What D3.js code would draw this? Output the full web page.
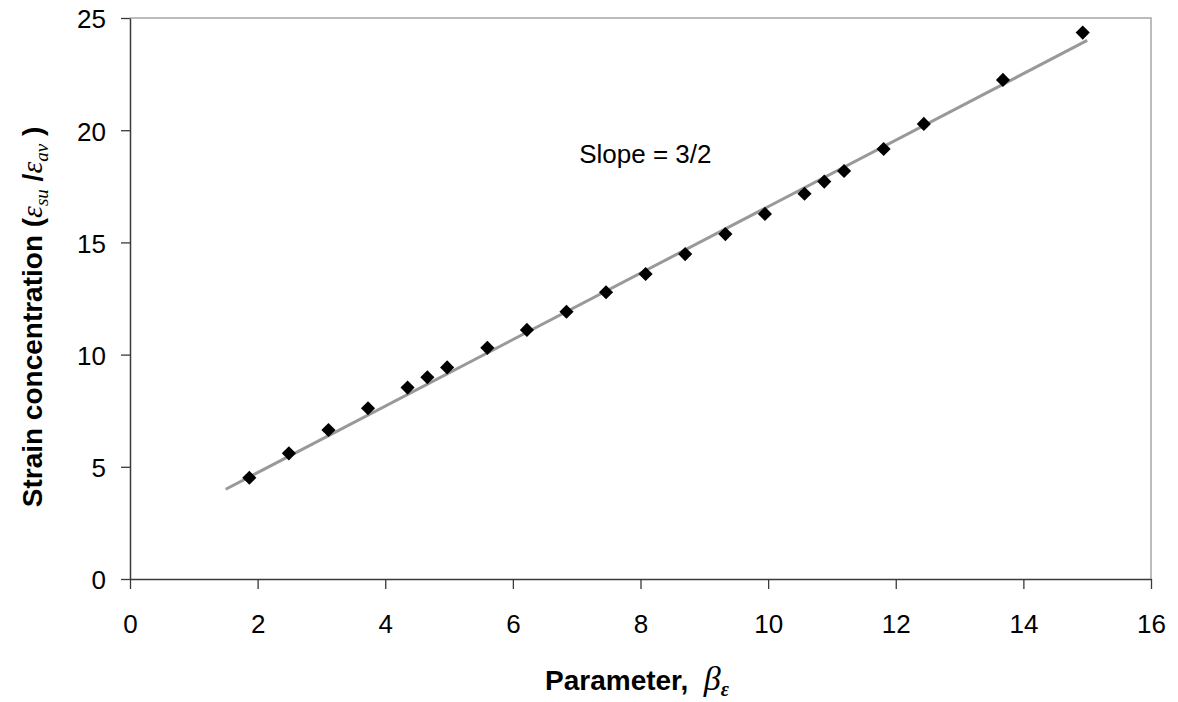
<!DOCTYPE html>
<html>
<head>
<meta charset="utf-8">
<script src="https://cdn.jsdelivr.net/npm/d3@7"></script>
<style>
  html, body { margin: 0; padding: 0; background: #fff; }
  svg { display: block; }
</style>
</head>
<body>
<svg id="chart" width="1178" height="702"></svg>
<script>
// ---- data ----
const beta = [1.87, 2.49, 3.11, 3.73, 4.35, 4.66, 4.97, 5.60, 6.22, 6.84, 7.46, 8.08, 8.70, 9.33, 9.95, 10.57, 10.88, 11.19, 11.81, 12.44, 13.68, 14.93];
const strain = [4.51, 5.60, 6.64, 7.61, 8.53, 8.99, 9.43, 10.30, 11.10, 11.91, 12.78, 13.59, 14.48, 15.37, 16.27, 17.17, 17.71, 18.18, 19.16, 20.28, 22.24, 24.35];
const trendX = [1.5, 15];
const trendY = [4, 24];
const xTicks = [0, 2, 4, 6, 8, 10, 12, 14, 16];
const yTicks = [0, 5, 10, 15, 20, 25];
const slopeLabel = "Slope = 3/2";
const slopePos = [7.04, 18.54];

// ---- layout ----
const svg = d3.select("#chart");
const mLeft = 130, mRight = 1151, mTop = 18, mBottom = 579;
const x = d3.scaleLinear().domain([0, 16]).range([mLeft, mRight]);
const y = d3.scaleLinear().domain([0, 25]).range([mBottom, mTop]);
const FONT = "'Liberation Sans', Arial, sans-serif";
const SERIF = "'Liberation Serif', 'DejaVu Serif', serif";

// plot area border (top/right grey)
svg.append("path")
  .attr("d", `M${mLeft},${mTop}H${mRight}V${mBottom}`)
  .attr("fill", "none").attr("stroke", "#a6a6a6").attr("stroke-width", 1.5);

// axes
const xAxis = d3.axisBottom(x).tickValues(xTicks).tickSize(10).tickSizeOuter(0).tickPadding(26);
const gx = svg.append("g").attr("transform", `translate(0,${mBottom})`).call(xAxis);
const yAxis = d3.axisLeft(y).tickValues(yTicks).tickSize(9).tickSizeOuter(0).tickPadding(15);
const gy = svg.append("g").attr("transform", `translate(${mLeft},0)`).call(yAxis);

[gx, gy].forEach(g => {
  g.select(".domain").attr("stroke", "#3a3a3a").attr("stroke-width", 1.5);
  g.selectAll(".tick line").attr("stroke", "#3a3a3a").attr("stroke-width", 1.3);
  g.selectAll(".tick text").attr("fill", "#000").style("font-family", FONT).style("font-size", "26px");
});
gy.selectAll(".tick text").attr("dy", "0.38em");

// trend line
svg.append("line")
  .attr("x1", x(trendX[0])).attr("y1", y(trendY[0]))
  .attr("x2", x(trendX[1])).attr("y2", y(trendY[1]))
  .attr("stroke", "#999999").attr("stroke-width", 3);

// markers
const diamond = d3.symbol().type(d3.symbolSquare).size(100);
svg.append("g").selectAll("path")
  .data(beta.map((b, i) => [b, strain[i]]))
  .join("path")
  .attr("d", diamond)
  .attr("transform", d => `translate(${x(d[0])},${y(d[1])}) rotate(45)`)
  .attr("fill", "#000");

// slope annotation
svg.append("text")
  .attr("x", x(slopePos[0])).attr("y", y(slopePos[1]))
  .style("font-family", FONT).style("font-size", "26px")
  .attr("fill", "#000")
  .text(slopeLabel);

// x axis title
const xt = svg.append("text")
  .attr("x", 637).attr("y", 690)
  .attr("text-anchor", "middle")
  .style("font-family", FONT).style("font-size", "28px").style("font-weight", "bold")
  .attr("fill", "#000");
xt.append("tspan").text("Parameter,\u00a0\u00a0");
xt.append("tspan").text("β").style("font-family", SERIF).style("font-style", "italic").style("font-weight", "normal").style("font-size", "34px");
xt.append("tspan").text("ε").attr("dy", 6).style("font-family", SERIF).style("font-style", "italic").style("font-weight", "bold").style("font-size", "20px");

// y axis title
const yt = svg.append("text")
  .attr("transform", "translate(42,317) rotate(-90)")
  .attr("text-anchor", "middle")
  .style("font-family", FONT).style("font-size", "28px").style("font-weight", "bold")
  .attr("fill", "#000");
yt.append("tspan").text("Strain concentration (");
yt.append("tspan").text("ε").style("font-family", SERIF).style("font-style", "italic").style("font-weight", "normal").style("font-size", "30px");
yt.append("tspan").text("su").attr("dy", 6).style("font-family", SERIF).style("font-style", "italic").style("font-weight", "normal").style("font-size", "19px");
yt.append("tspan").text("\u00a0/").attr("dy", -6);
yt.append("tspan").text("ε").style("font-family", SERIF).style("font-style", "italic").style("font-weight", "normal").style("font-size", "30px");
yt.append("tspan").text("av").attr("dy", 6).style("font-family", SERIF).style("font-style", "italic").style("font-weight", "normal").style("font-size", "19px");
yt.append("tspan").text("\u00a0)").attr("dy", -6);
</script>
</body>
</html>
